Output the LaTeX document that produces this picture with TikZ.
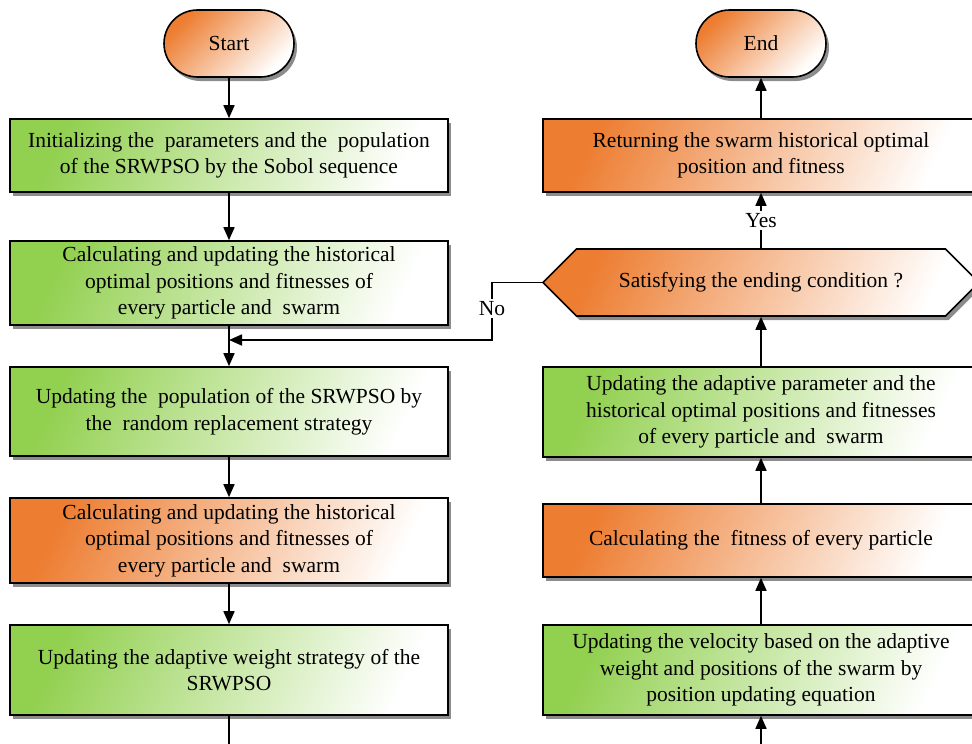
\documentclass[tikz,border=0pt]{standalone}
\usepackage{fontspec}
\setmainfont{Liberation Serif}
\usetikzlibrary{shadows,arrows.meta,shapes.misc,shapes.symbols}
\definecolor{gbase}{RGB}{146,208,80}
\definecolor{obase}{RGB}{237,125,49}
\begin{document}
\begin{tikzpicture}[x=1pt,y=-1pt,
  base/.style={draw=black, line width=1.6pt, align=center, inner sep=2pt,
    font=\fontsize{21.5}{26.5}\selectfont,
    drop shadow={shadow xshift=3pt, shadow yshift=-4pt, opacity=0.45, fill=black}},
  gbox/.style={base, rectangle, left color=gbase, right color=white, shading angle=65},
  obox/.style={base, rectangle, left color=obase, right color=white, shading angle=65},
  term/.style={base, rounded rectangle, minimum width=134pt, minimum height=67pt,
    left color=obase, right color=white, shading angle=45},
  lw/.style={minimum width=438pt},
  rw/.style={minimum width=436pt},
  arr/.style={line width=1.6pt, -{Triangle[length=13pt,width=11pt]}},
  ln/.style={line width=1.6pt},
  lab/.style={fill=white, inner sep=2pt, font=\fontsize{21.5}{24}\selectfont}]
\useasboundingbox (0,0) rectangle (972,744);

% left column
\node[term] (start) at (229,43.5) {Start};
\node[gbox, lw, minimum height=73pt] (b1) at (229,155.5)
  {Initializing the \ parameters and the \ population\\ of the SRWPSO by the Sobol sequence};
\node[gbox, lw, minimum height=84pt] (b2) at (229,283)
  {Calculating and updating the historical\\ optimal positions and fitnesses of\\ every particle and \ swarm};
\node[gbox, lw, minimum height=89pt] (b3) at (229,411.5)
  {Updating the \ population of the SRWPSO by\\ the \ random replacement strategy};
\node[obox, lw, minimum height=85pt] (b4) at (229,540.5)
  {Calculating and updating the historical\\ optimal positions and fitnesses of\\ every particle and \ swarm};
\node[gbox, lw, minimum height=90pt] (b5) at (229,670)
  {Updating the adaptive weight strategy of the\\ SRWPSO};

% right column
\node[term] (end) at (761,43.5) {End};
\node[obox, rw, minimum height=73pt] (ret) at (761,155.5)
  {Returning the swarm historical optimal\\ position and fitness};
\node[base, shape=signal, signal to=west and east, signal pointer angle=90,
  minimum width=436pt, minimum height=67pt,
  left color=obase, right color=white, shading angle=65] (hex) at (761,282.5)
  {Satisfying the ending condition ?};
\node[gbox, rw, minimum height=90pt] (r3) at (761,412)
  {Updating the adaptive parameter and the\\ historical optimal positions and fitnesses\\ of every particle and \ swarm};
\node[obox, rw, minimum height=73pt] (r2) at (761,540.5)
  {Calculating the \ fitness of every particle};
\node[gbox, rw, minimum height=90pt] (r1) at (761,670)
  {Updating the velocity based on the adaptive\\ weight and positions of the swarm by\\ position updating equation};

% coordinates
\coordinate (j) at (229,340);
\coordinate (nc) at (492,282.5);
\coordinate (lb) at (229,744);
\coordinate (rb) at (761,744);

% connectors left
\draw[arr] (start) -- (b1);
\draw[arr] (b1) -- (b2);
\draw[arr] (b2) -- (b3);
\draw[arr] (b3) -- (b4);
\draw[arr] (b4) -- (b5);
\draw[ln] (b5) -- (lb);

% connectors right
\draw[arr] (rb) -- (r1);
\draw[arr] (r1) -- (r2);
\draw[arr] (r2) -- (r3);
\draw[arr] (r3) -- (hex);
\draw[arr] (hex) -- node[lab] {Yes} (ret);
\draw[arr] (ret) -- (end);
\draw[arr] (hex.west) -- (nc) -- node[lab, pos=0.45] {No} (nc |- j) -- (j);
\end{tikzpicture}
\end{document}
